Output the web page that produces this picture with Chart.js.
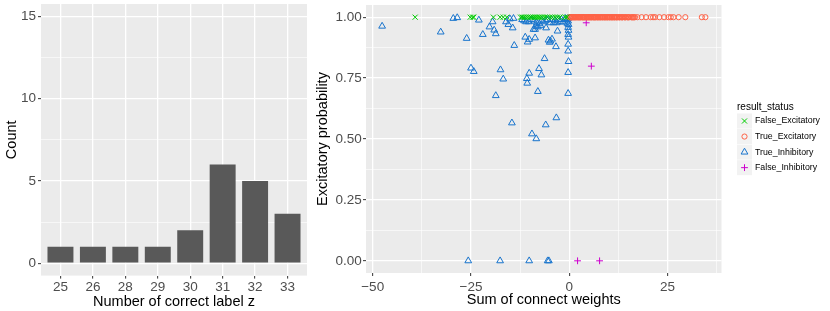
<!DOCTYPE html>
<html><head><meta charset="utf-8">
<script src="https://cdn.jsdelivr.net/npm/chart.js@4.4.1/dist/chart.umd.min.js"></script>
<style>
html,body{margin:0;padding:0;background:#fff;}
#c1{position:absolute;left:0;top:0;}
#c2{position:absolute;left:310px;top:0;}
</style></head><body>
<canvas id="c1" width="310" height="311"></canvas>
<canvas id="c2" width="520" height="311"></canvas>
<script>
// ---------- data: left panel ----------
const categories = ['25','26','28','29','30','31','32','33'];
const counts = [1,1,1,1,2,6,5,3];
const countTicks = [0,5,10,15];
const countMinor = [2.5,7.5,12.5];

// ---------- data: right panel ----------
const seriesNames = ['False_Excitatory','True_Excitatory','True_Inhibitory','False_Inhibitory'];
const falseExcitatory = [[-39.2,1],[-25.2,1],[-24.6,1],[-24.3,1],[-19.3,1],[-17.6,1],[-16.8,1],[-15.9,1],
 [-12.4,1],[-12.0,1],[-11.6,1],[-11.1,1],[-10.6,1],[-10.1,1],[-9.7,1],[-9.2,1],[-8.7,1],[-8.2,1],[-7.7,1],
 [-7.3,1],[-6.8,1],[-6.2,1],[-5.6,1],[-4.9,1],[-4.3,1],[-3.6,1],[-3.0,1],[-2.4,1],[-1.1,1],[-0.6,1]];
const trueExcitatory = [[0.1,1],[0.3,1],[0.5,1],[0.8,1],[1.0,1],[1.3,1],[1.5,1],[1.8,1],[2.1,1],[2.4,1],[2.6,1],
 [2.9,1],[3.2,1],[3.5,1],[3.7,1],[4.0,1],[4.3,1],[4.6,1],[4.9,1],[5.1,1],[5.4,1],[5.7,1],[6.0,1],[6.3,1],[6.5,1],
 [6.8,1],[7.1,1],[7.4,1],[7.7,1],[8.0,1],[8.3,1],[8.6,1],[8.9,1],[9.2,1],[9.5,1],[9.8,1],[10.1,1],[10.4,1],
 [10.7,1],[11.0,1],[11.3,1],[11.6,1],[11.9,1],[12.2,1],[12.6,1],[12.9,1],[13.3,1],[13.6,1],[14.0,1],[14.4,1],
 [14.8,1],[15.2,1],[15.7,1],[16.2,1],[16.7,1],[17.3,1],[18.4,1],[19.5,1],[20.7,1],[21.3,1],[21.8,1],[22.9,1],
 [24.1,1],[25.2,1],[25.8,1],[26.5,1],[27.8,1],[29.5,1],[33.7,1],[34.6,1],
 [0.2,0.999],[0.65,0.999],[1.15,0.999],[1.65,0.999],[2.25,0.999],[2.75,0.999],[3.35,0.999],[3.85,0.999],
 [4.45,0.999],[5.0,0.999],[5.55,0.999],[6.15,0.999],[6.65,0.999],[7.25,0.999],[7.85,0.999],[8.45,0.999],
 [9.05,0.999],[9.65,0.999],[10.25,0.999],[10.85,0.999],[11.45,0.999],[12.05,0.999],[12.75,0.999],
 [13.45,0.999],[14.2,0.999],[15.0,0.999],[15.95,0.999],[16.45,0.999]];
const trueInhibitory = [[-47.6,0.963],[-32.7,0.939],[-29.5,0.995],[-28.5,0.998],[-26.1,0.913],[-25.7,0],
 [-25.0,0.791],[-24.3,0.777],[-23.0,0.988],[-22.0,0.929],[-20.3,0.960],[-19.5,0.981],[-19.1,0.947],
 [-18.7,0.932],[-18.7,0.678],[-17.6,0],[-17.5,0.784],[-16.8,0.746],[-16.1,0.981],[-15.5,0.970],[-15.1,0.993],
 [-14.4,0.956],[-14.0,0.884],[-14.6,0.566],[-14.2,0.995],[-11.2,0.918],[-10.6,0.898],[-10.2,0.909],
 [-8.7,0.915],[-10.2,0.770],[-10.8,0.748],[-10.7,0.729],[-10.2,0],[-9.5,0.521],[-8.4,0.501],[-8.0,0.695],
 [-7.7,0.789],[-7.1,0.763],[-6.3,0.830],[-6.0,0.558],[-5.5,0],[-5.2,0],[-3.3,0.587],[-5.3,0.906],
 [-4.8,0.902],[-4.4,0.910],[-5.0,0.897],[-3.4,0.879],[-3.0,0.943],[-5.9,0.956],
 [-11.0,0.981],[-10.3,0.981],[-9.0,0.984],[-8.3,0.977],[-8.5,0.963],[-8.7,0.950],[-7.6,0.973],[-6.6,0.981],
 [-4.9,0.977],[-4.0,0.977],[-3.2,0.977],[-2.3,0.981],[-1.5,0.980],[-12.0,0.990],[-11.5,0.985],[-9.6,0.990],
 [-7.0,0.988],[-6.0,0.985],[-5.5,0.990],[-4.5,0.990],[-3.7,0.985],[-2.8,0.990],[-2.0,0.990],[-1.0,0.995],
 [-9.1,0.950],[-8.0,0.960],[-7.3,0.965],
 [-0.3,0.995],[-0.3,0.984],[-0.2,0.970],[-0.3,0.958],[-0.2,0.946],[-0.3,0.929],[-0.2,0.918],[-0.3,0.889],
 [-0.3,0.861],[-0.2,0.818],[-0.3,0.773],[-0.3,0.687],[-0.6,0.990],[-0.5,0.975]];
const falseInhibitory = [[2.1,0],[4.3,0.977],[5.6,0.799],[7.7,0]];
const weightTicks = [-50,-25,0,25];
const weightMinor = [-37.5,-12.5,12.5,37.5];
const probTicks = [0,0.25,0.5,0.75,1];
const probMinor = [0.125,0.375,0.625,0.875];

// ---------- styling ----------
const FONT = "'Liberation Sans', Arial, Helvetica, sans-serif";
Chart.defaults.font.family = FONT;
Chart.defaults.animation = false;
const TICK_COL = '#4D4D4D';
const sortNum = a => a.slice().sort((p,q)=>p-q);
const isIn = (arr, v) => arr.some(t => Math.abs(t - v) < 1e-9);

const panelBg = { id:'panelBg', beforeDraw(chart){
  const {ctx, chartArea:a} = chart; ctx.save(); ctx.fillStyle = '#EBEBEB';
  ctx.fillRect(a.left, a.top, a.right-a.left, a.bottom-a.top); ctx.restore(); } };

function axis(opts){
  const {min,max,major,minor,fmt,size,pos,title,tpad,lpad} = opts;
  const all = sortNum(major.concat(minor));
  const maj = c => c && c.tick && isIn(major, c.tick.value);
  return {
    type:'linear', position:pos, min, max, offset:false,
    afterBuildTicks(s){ s.ticks = all.map(v=>({value:v})); },
    afterFit(s){
      if(pos==='left') s.width = size; else s.height = size;
      s.paddingTop = 0; s.paddingBottom = 0; s.paddingLeft = 0; s.paddingRight = 0;
    },
    border:{display:false},
    grid:{ color:'#FFFFFF', drawTicks:true, tickLength:3, offset:false,
      lineWidth: c => maj(c) ? 1.3 : 0.6,
      tickColor: c => maj(c) ? '#333333' : 'rgba(0,0,0,0)', tickWidth:1 },
    ticks:{ color:TICK_COL, font:{size:13.5}, padding:lpad, autoSkip:false, maxRotation:0,
      callback: v => isIn(major, v) ? fmt(v) : '' },
    title:{ display:true, text:title, color:'#000', font:{size:14.5}, padding:tpad }
  };
}

// ---------- left chart ----------
new Chart(document.getElementById('c1'), {
  type:'bar',
  data:{ datasets:[{ data: counts.map((c,i)=>({x:i, y:c})), backgroundColor:'#595959',
    borderWidth:0, categoryPercentage:1, barPercentage:0.8 }] },
  options:{ responsive:false, events:[],
    layout:{ padding:{left:0, right:3, top:4, bottom:0} },
    plugins:{ legend:{display:false}, tooltip:{enabled:false} },
    scales:{
      x: axis({min:-0.6, max:7.6, major:categories.map((c,i)=>i), minor:[], pos:'bottom', size:35.4,
        fmt:v=>categories[v], title:'Number of correct label z', tpad:{bottom:0}, lpad:1}),
      y: axis({min:-0.75, max:15.75, major:countTicks, minor:countMinor, pos:'left', size:41,
        fmt:v=>String(v), title:'Count', tpad:{top:3}, lpad:2})
    } },
  plugins:[panelBg]
});

// ---------- right chart ----------
const styles = [
  {pointStyle:'crossRot', radius:3.6, color:'#00CD00'},
  {pointStyle:'circle',   radius:2.6, color:'#FF6347'},
  {pointStyle:'triangle', radius:3.9, color:'#1874CD'},
  {pointStyle:'cross',    radius:3.4, color:'#CD00CD'}
];
const seriesData = [falseExcitatory, trueExcitatory, trueInhibitory, falseInhibitory];
const minusFmt = v => v < 0 ? '\u2212' + Math.abs(v) : String(v);

const ggLegend = { id:'ggLegend', afterDraw(chart){
  const ctx = chart.ctx; ctx.save();
  ctx.textBaseline = 'middle'; ctx.textAlign = 'left';
  ctx.fillStyle = '#000'; ctx.font = '10px ' + FONT;
  ctx.fillText('result_status', 427, 107);
  chart.data.datasets.forEach((ds,i)=>{
    const cy = 121 + i*15.55;
    ctx.fillStyle = '#F2F2F2'; ctx.fillRect(427, cy-7.5, 15, 15);
    ctx.strokeStyle = ds.borderColor; ctx.fillStyle = 'rgba(0,0,0,0)'; ctx.lineWidth = 1;
    Chart.helpers.drawPoint(ctx, {pointStyle:ds.pointStyle, radius:ds.pointRadius, borderWidth:1, rotation:0}, 434.5, cy);
    ctx.fillStyle = '#000'; ctx.font = '8.8px ' + FONT;
    ctx.fillText(ds.label, 445, cy);
  });
  ctx.restore(); } };

new Chart(document.getElementById('c2'), {
  type:'scatter',
  data:{ datasets: seriesNames.map((n,i)=>({
    label:n, data: seriesData[i].map(p=>({x:p[0], y:p[1]})),
    pointStyle: styles[i].pointStyle, pointRadius: styles[i].radius,
    borderColor: styles[i].color, backgroundColor:'rgba(0,0,0,0)',
    pointBorderWidth:1, showLine:false })) },
  options:{ responsive:false, events:[],
    layout:{ padding:{left:0, right:108.5, top:4, bottom:0} },
    plugins:{ legend:{display:false}, tooltip:{enabled:false} },
    scales:{
      x: axis({min:-51.7, max:38.7, major:weightTicks, minor:weightMinor, pos:'bottom', size:38,
        fmt:minusFmt, title:'Sum of connect weights', tpad:{bottom:2}, lpad:3}),
      y: axis({min:-0.05, max:1.05, major:probTicks, minor:probMinor, pos:'left', size:56,
        fmt:v=>v.toFixed(2), title:'Excitatory probability', tpad:{top:4}, lpad:1.3})
    } },
  plugins:[panelBg, ggLegend]
});
</script>
</body></html>
